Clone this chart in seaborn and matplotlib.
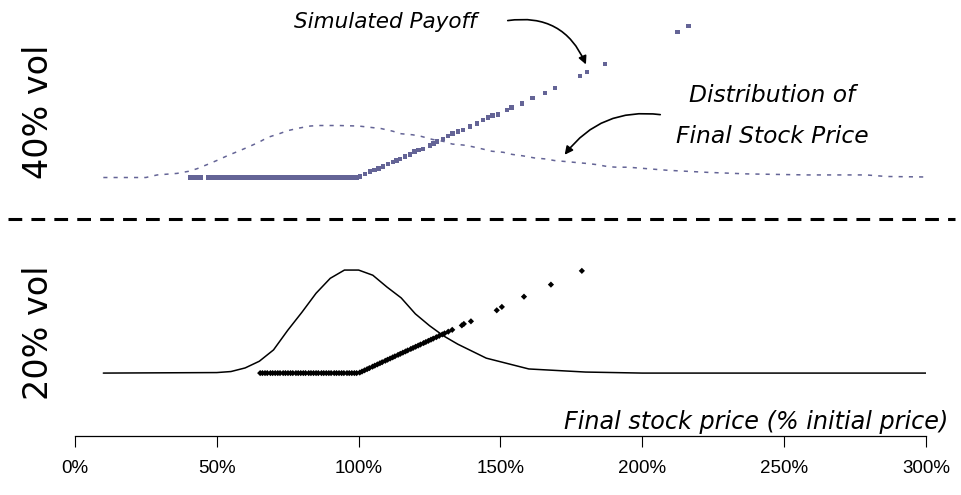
import numpy as np
import pandas as pd
import seaborn as sns
from matplotlib import pyplot as plt
from matplotlib.lines import Line2D

# ---- data (x = final stock price, % of initial) ----
# 40% vol: distribution of final stock price (dotted curve)
TOP_DENS_X = [10, 25, 29, 36, 40, 43, 47, 50, 54, 58, 61, 65, 68, 72, 75, 79, 83, 86, 90, 93,
              100, 108, 112, 115, 119, 122, 126, 130, 133, 137, 140, 144, 147, 151, 154, 158,
              162, 166, 169, 173, 177, 181, 184, 188, 191, 195, 209, 223, 237, 258, 279, 286, 300]
TOP_DENS = [0, 0, 0.05, 0.08, 0.12, 0.17, 0.26, 0.33, 0.43, 0.52, 0.59, 0.69, 0.78, 0.85, 0.91,
            0.96, 1.00, 1.01, 1.01, 1.01, 1.00, 0.95, 0.90, 0.85, 0.83, 0.80, 0.74, 0.70, 0.65,
            0.63, 0.60, 0.55, 0.51, 0.49, 0.45, 0.42, 0.38, 0.36, 0.33, 0.31, 0.29, 0.27, 0.25,
            0.21, 0.20, 0.20, 0.14, 0.10, 0.07, 0.05, 0.05, 0.02, 0.01]

# 40% vol: simulated payoff points
TOP_SIM_PRICE = [40.5, 41.9, 43.2, 44.5, 47.1, 48.4, 49.8, 51.1, 52.3, 53.7, 55.0, 56.2, 57.6,
                 58.9, 60.1, 61.5, 62.8, 64.0, 65.4, 66.7, 68.0, 69.3, 70.6, 71.9, 73.2, 74.5,
                 75.8, 77.1, 78.4, 79.7, 81.0, 82.3, 83.6, 84.8, 86.2, 87.5, 88.8, 90.1, 91.4,
                 92.7, 94.0, 95.3, 96.6, 97.9, 99.2,
                 100.5, 102.2, 104.0, 105.7, 107.1, 108.6, 110.3, 112.1, 113.3, 114.6, 116.3,
                 118.1, 119.8, 121.2, 122.7, 125.1, 126.4, 127.6, 129.7, 131.5, 133.2, 135.0,
                 136.8, 139.2, 141.7, 143.8, 145.6, 147.3, 149.1, 152.3, 154.0, 157.6, 161.4,
                 165.7, 169.2, 178.0, 180.5, 186.8, 212.5, 216.4]
TOP_SIM_PAYOFF = [0, 0, 0, 0, 0, 0, 0, 0, 0, 0, 0, 0, 0, 0, 0, 0, 0, 0, 0, 0, 0, 0, 0, 0, 0,
                  0, 0, 0, 0, 0, 0, 0, 0, 0, 0, 0, 0, 0, 0, 0, 0, 0, 0, 0, 0,
                  0.6, 2.6, 4.4, 5.7, 7.0, 8.2, 10.3, 11.8, 13.0, 14.1, 15.9, 17.7, 19.7, 21.0,
                  21.8, 24.3, 26.0, 27.4, 29.4, 31.7, 33.7, 35.0, 36.3, 38.8, 41.4, 43.9, 46.0,
                  47.2, 48.0, 51.5, 53.6, 56.7, 60.7, 64.5, 68.3, 77.5, 80.5, 86.6, 111.0, 115.6]

# 20% vol: distribution of final stock price (solid curve)
BOT_DENS_X = [10, 50, 55, 60, 65, 70, 75, 80, 85, 90, 95, 100, 105, 110, 115, 120, 125, 130,
              135, 145, 160, 180, 200, 300]
BOT_DENS = [0, 0.01, 0.03, 0.10, 0.23, 0.45, 0.83, 1.18, 1.55, 1.84, 2.00, 2.00, 1.90, 1.67,
            1.46, 1.15, 0.92, 0.72, 0.56, 0.29, 0.08, 0.02, 0, 0]

# 20% vol: simulated payoff points
BOT_SIM_PRICE = [65.3, 66.1, 67.0, 67.8, 68.9, 69.7, 70.6, 71.5, 72.3, 73.4, 74.2, 75.1, 76.0,
                 76.8, 77.9, 78.7, 79.6, 80.5, 81.3, 82.4, 83.2, 84.1, 85.0, 85.8, 86.9, 87.7,
                 88.6, 89.5, 90.3, 91.4, 92.2, 93.1, 94.0, 94.8, 95.9, 96.7, 97.6, 98.5, 99.3,
                 100.4, 101.2, 102.1, 103.0, 103.8, 104.9, 105.7, 106.6, 107.5, 108.3, 109.4,
                 110.2, 111.1, 112.0, 112.8, 113.9, 114.7, 115.6, 116.5, 117.3, 118.4, 119.2,
                 120.1, 121.0, 121.8, 122.9, 123.7, 124.6, 125.5, 126.3, 127.4, 128.4, 129.5,
                 130.3, 131.6, 133.0, 136.4, 137.1, 139.6, 148.7, 150.5, 158.3, 167.8, 178.7]
BOT_SIM_PAYOFF = [0, 0, 0, 0, 0, 0, 0, 0, 0, 0, 0, 0, 0, 0, 0, 0, 0, 0, 0, 0, 0, 0, 0, 0, 0,
                  0, 0, 0, 0, 0, 0, 0, 0, 0, 0, 0, 0, 0, 0,
                  0.4, 1.2, 2.1, 3.0, 3.8, 4.9, 5.7, 6.6, 7.5, 8.3, 9.4, 10.2, 11.1, 12.0, 12.8,
                  13.9, 14.7, 15.6, 16.5, 17.3, 18.4, 19.2, 20.1, 21.0, 21.8, 22.9, 23.7, 24.6,
                  25.5, 26.3, 27.4, 28.4, 29.5, 30.3, 31.6, 33.0, 36.4, 37.5, 39.5, 47.9, 50.5,
                  58.3, 67.5, 78.0]

X_TICKS = [0, 50, 100, 150, 200, 250, 300]

PURPLE = '#646496'
DENS_SCALE = 39.3   # density drawn on the payoff scale

sns.set_theme(style='white')
plt.rcParams['font.family'] = ['DejaVu Sans']

fig = plt.figure(figsize=(9.61, 4.95), dpi=100)
ax_top = fig.add_axes([0.078, 0.5657, 0.8855, 0.4343])
ax_bot = fig.add_axes([0.078, 0.1192, 0.8855, 0.4263])

# top panel (40% vol)
sns.lineplot(x=TOP_DENS_X, y=np.array(TOP_DENS) * DENS_SCALE, ax=ax_top, color=PURPLE,
             linewidth=1.1, linestyle=(0, (2.7, 4)))
sns.scatterplot(x=TOP_SIM_PRICE, y=TOP_SIM_PAYOFF, ax=ax_top, marker='s', s=11,
                color=PURPLE, edgecolor='none', linewidth=0)
ax_top.set_xlim(0, 300)
ax_top.set_ylim(-28.6, 135.5)
ax_top.axis('off')

# bottom panel (20% vol)
sns.lineplot(x=BOT_DENS_X, y=np.array(BOT_DENS) * DENS_SCALE, ax=ax_bot, color='black',
             linewidth=1.1)
sns.scatterplot(x=BOT_SIM_PRICE, y=BOT_SIM_PAYOFF, ax=ax_bot, marker='D', s=10,
                color='black', edgecolor='none', linewidth=0)
ax_bot.set_xlim(0, 300)
ax_bot.set_ylim(-48, 113)
sns.despine(ax=ax_bot, left=True, top=True, right=True)
ax_bot.spines['bottom'].set_color('black')
ax_bot.spines['bottom'].set_linewidth(0.9)
ax_bot.set_yticks([])
ax_bot.set_xticks(X_TICKS)
ax_bot.set_xticklabels([f'{t}%' for t in X_TICKS],
                       family=['Liberation Sans', 'DejaVu Sans'])
ax_bot.tick_params(axis='x', bottom=True, direction='out', length=8, width=0.8,
                   color='black', labelsize=13.5, pad=9, labelcolor='black')
ax_bot.set_xlabel('')
ax_bot.set_ylabel('')

# separator
fig.add_artist(Line2D([8 / 961, 955 / 961], [1 - 219 / 495, 1 - 219 / 495],
                      transform=fig.transFigure, color='black', linewidth=2.2,
                      dashes=(4.5, 3)))

# panel labels
fig.text(38 / 961, 1 - 112 / 495, '40% vol', rotation=90, ha='center', va='center',
         fontsize=24, color='black')
fig.text(38 / 961, 1 - 333 / 495, '20% vol', rotation=90, ha='center', va='center',
         fontsize=24, color='black')

# annotations
fig.text(385 / 961, 1 - 22 / 495, 'Simulated Payoff', ha='center', va='center',
         fontsize=15.5, style='italic', color='black')
fig.text(772 / 961, 1 - 116 / 495, 'Distribution of\nFinal Stock Price', ha='center',
         va='center', fontsize=16.8, style='italic', color='black', linespacing=1.95)
fig.text(948 / 961, 1 - 422 / 495, 'Final stock price (% initial price)', ha='right',
         va='center', fontsize=17.2, style='italic', color='black')

ax_top.annotate('', xy=(587 / 961, 1 - 67 / 495), xycoords='figure fraction',
                xytext=(505 / 961, 1 - 21 / 495), textcoords='figure fraction',
                arrowprops=dict(arrowstyle='-|>', connectionstyle='arc3,rad=-0.4',
                                color='black', lw=1.2, mutation_scale=12))
ax_top.annotate('', xy=(563 / 961, 1 - 157 / 495), xycoords='figure fraction',
                xytext=(663 / 961, 1 - 115 / 495), textcoords='figure fraction',
                arrowprops=dict(arrowstyle='-|>', connectionstyle='arc3,rad=0.3',
                                color='black', lw=1.2, mutation_scale=12))

fig.savefig('out.png', dpi=100, facecolor='white')
